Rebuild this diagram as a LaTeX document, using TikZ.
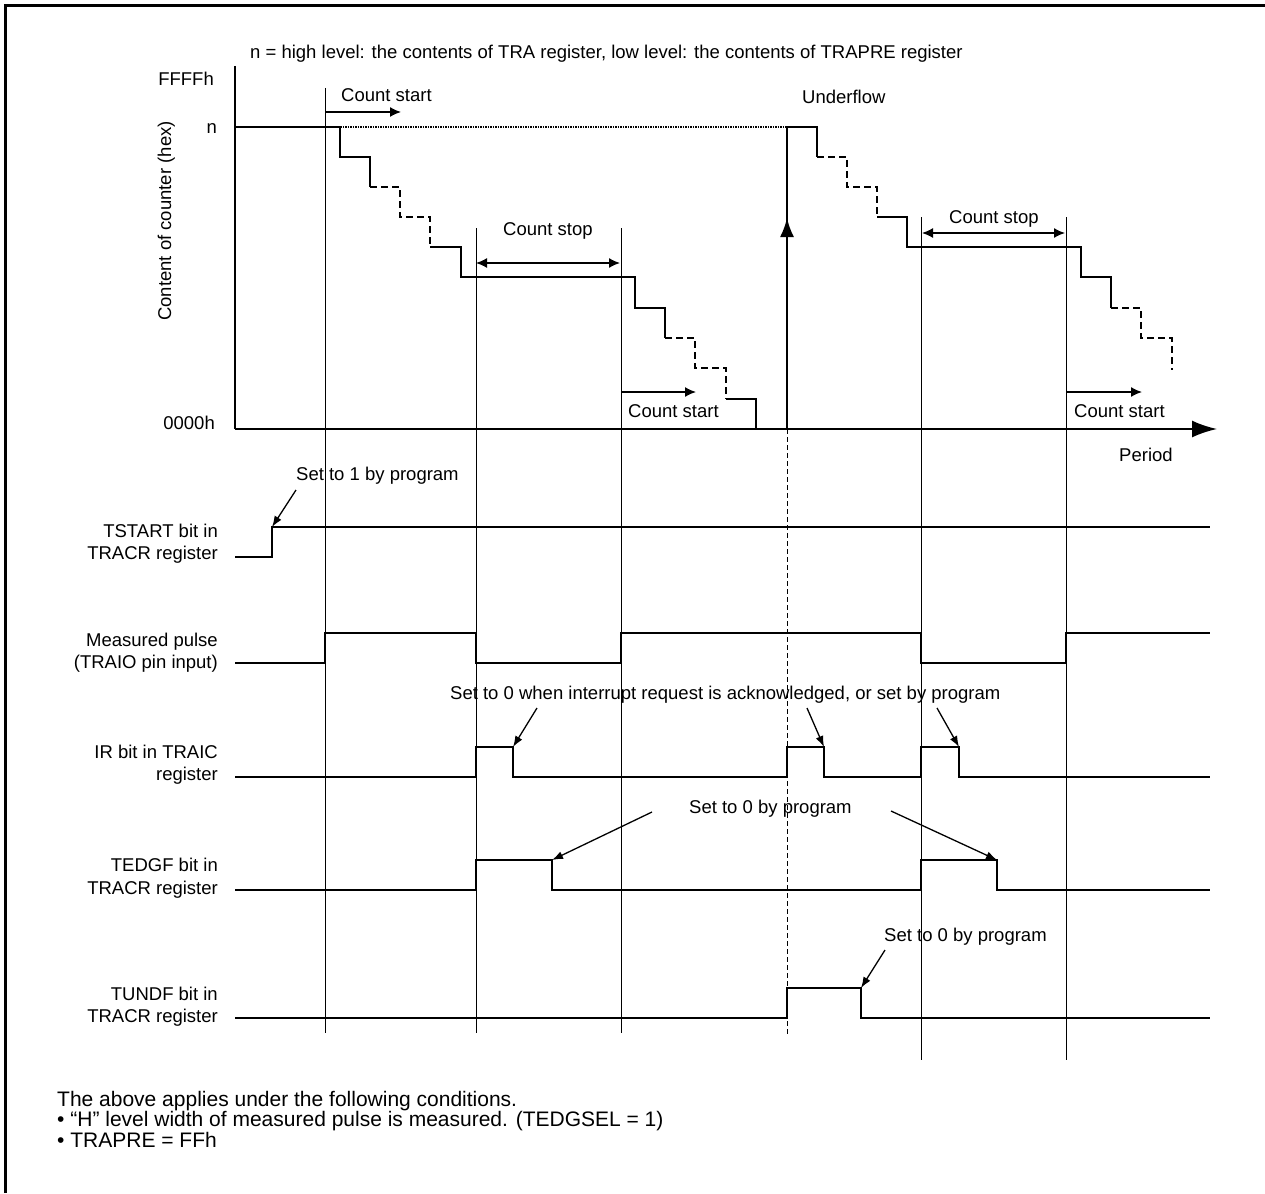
\documentclass[tikz,border=0pt]{standalone}
\usepackage{fontspec}
\setmainfont{Liberation Sans}
\usetikzlibrary{arrows.meta}
\begin{document}
\begin{tikzpicture}[x=1pt,y=-1pt,
  font=\fontsize{18.5}{22.5}\selectfont,
  sig/.style={line width=2pt, line join=miter},
  dstep/.style={line width=2pt, dash pattern=on 7pt off 4pt},
  guide/.style={line width=0.9pt},
  udash/.style={line width=1pt, dash pattern=on 5pt off 3pt},
  txt/.style={inner sep=0pt, anchor=base west},
  lbl/.style={inner sep=0pt, anchor=base east},
  span/.style={line width=1.4pt, -{Latex[length=11pt,width=10pt]}},
  bispan/.style={line width=1.4pt, {Latex[length=11pt,width=10pt]}-{Latex[length=11pt,width=10pt]}},
  note/.style={line width=1.3pt, -{Latex[length=11pt,width=8pt]}},
]
\useasboundingbox (0,0) rectangle (1265,1193);
% frame (top and left)
\draw[line width=3pt] (5.5,1193) -- (5.5,5.5) -- (1265,5.5);

% header text
\node[txt] (hdr) at (250,58.6) {n = high level: the contents of TRA register, low level: the contents of TRAPRE register};

% axes
\coordinate (ytop) at (235,66);
\coordinate (orig) at (235,429);
\coordinate (xend) at (1217,429);
\draw[line width=2pt] (ytop) -- (orig);
\draw[line width=2pt, -{Latex[length=25pt,width=17pt]}] (orig) -- (xend);
\node[lbl] (lffff) at (214,86) {FFFFh};
\node[lbl] (ln) at (217,134) {n};
\node[lbl] (l0000) at (215,429) {0000h};
\node[inner sep=0pt, anchor=base, rotate=90] (ylab) at (171,221) {Content of counter (hex)};
\node[txt] (period) at (1119,461.7) {Period};

% guide lines
\draw[guide] (325,88) -- (325,1033);
\draw[guide] (476,228) -- (476,1033);
\draw[guide] (621,228) -- (621,1033);
\draw[guide] (921,217) -- (921,1060);
\draw[guide] (1066,217) -- (1066,1060);
\draw[udash] (787,429) -- (787,1035);

% counter staircase 1
\draw[line width=1.2pt, dash pattern=on 1.5pt off 1pt] (340,127) -- (787,127);
\draw[sig] (235,127) -- (340,127) -- (340,157) -- (370,157) -- (370,187);
\draw[dstep] (370,187) -- (400,187) -- (400,217) -- (430,217) -- (430,247);
\draw[sig] (430,247) -- (461,247) -- (461,277) -- (635,277) -- (635,308) -- (665,308) -- (665,338);
\draw[dstep] (665,338) -- (695,338) -- (695,368) -- (726,368) -- (726,399);
\draw[sig] (726,399) -- (756,399) -- (756,429);
% underflow and staircase 2
\draw[sig] (787,429) -- (787,127) -- (817,127) -- (817,157);
\draw[line width=2pt, -{Latex[length=19pt,width=14pt]}] (787,245) -- (787,218);
\draw[dstep] (817,157) -- (847,157) -- (847,187) -- (877,187) -- (877,217);
\draw[sig] (877,217) -- (907,217) -- (907,247) -- (1081,247) -- (1081,277) -- (1111,277) -- (1111,308);
\draw[dstep] (1111,308) -- (1141,308) -- (1141,338) -- (1172,338) -- (1172,370);
\node[txt] (uflow) at (802,103.3) {Underflow};

% count start / stop
\node[txt] (cs1) at (341,101.5) {Count start};
\draw[span] (325,112) -- (401,112);
\node[txt] (cp1) at (503,235.7) {Count stop};
\draw[bispan] (476,263) -- (620,263);
\node[txt] (cs2) at (628,417) {Count start};
\draw[span] (621,392) -- (696,392);
\node[txt] (cp2) at (949,223) {Count stop};
\draw[bispan] (922,233) -- (1065,233);
\node[txt] (cs3) at (1074,417) {Count start};
\draw[span] (1066,392) -- (1142,392);

% signal labels
\node[lbl] (tsa) at (218,537.3) {TSTART bit in};
\node[lbl] (tsb) at (218,559.3) {TRACR register};
\node[lbl] (mpa) at (218,646) {Measured pulse};
\node[lbl] (mpb) at (218,668) {(TRAIO pin input)};
\node[lbl] (ira) at (218,758) {IR bit in TRAIC};
\node[lbl] (irb) at (218,780) {register};
\node[lbl] (tea) at (218,871.7) {TEDGF bit in};
\node[lbl] (teb) at (218,894) {TRACR register};
\node[lbl] (tua) at (218,1000.5) {TUNDF bit in};
\node[lbl] (tub) at (218,1022.7) {TRACR register};

% signals
\draw[sig] (235,557) -- (272,557) -- (272,527) -- (1210,527);
\draw[sig] (235,663) -- (325,663) -- (325,633) -- (476,633) -- (476,663) -- (621,663) -- (621,633) -- (921,633) -- (921,663) -- (1066,663) -- (1066,633) -- (1210,633);
\draw[sig] (235,777) -- (476,777) -- (476,747) -- (513,747) -- (513,777) -- (787,777) -- (787,747) -- (824,747) -- (824,777) -- (921,777) -- (921,747) -- (959,747) -- (959,777) -- (1210,777);
\draw[sig] (235,890) -- (476,890) -- (476,860) -- (552,860) -- (552,890) -- (921,890) -- (921,860) -- (997,860) -- (997,890) -- (1210,890);
\draw[sig] (235,1018) -- (787,1018) -- (787,988) -- (861,988) -- (861,1018) -- (1210,1018);

% annotations
\node[txt] (set1) at (296,480.7) {Set to 1 by program};
\coordinate (set1s) at (296,490);
\coordinate (set1e) at (272,527);
\draw[note] (set1s) -- (set1e);

\node[txt] (irnote) at (450,699.5) {Set to 0 when interrupt request is acknowledged, or set by program};
\coordinate (ir1s) at (537,708); \coordinate (ir1e) at (513,747);
\coordinate (ir2s) at (807,708); \coordinate (ir2e) at (824,747);
\coordinate (ir3s) at (937,708); \coordinate (ir3e) at (959,747);
\draw[note] (ir1s) -- (ir1e);
\draw[note] (ir2s) -- (ir2e);
\draw[note] (ir3s) -- (ir3e);

\node[txt] (tenote) at (689,813) {Set to 0 by program};
\coordinate (te1s) at (652,812); \coordinate (te1e) at (552,860);
\coordinate (te2s) at (891,811); \coordinate (te2e) at (997,860);
\draw[note] (te1s) -- (te1e);
\draw[note] (te2s) -- (te2e);

\node[txt] (tunote) at (884,941.7) {Set to 0 by program};
\coordinate (tus) at (885,950); \coordinate (tue) at (861,988);
\draw[note] (tus) -- (tue);

% footnote
\begin{scope}[font=\fontsize{21}{21}\selectfont]
\node[txt] (fn1) at (57,1106) {The above applies under the following conditions.};
\node[txt] (fn2) at (57,1126.5) {• “H” level width of measured pulse is measured. (TEDGSEL = 1)};
\node[txt] (fn3) at (57,1147) {• TRAPRE = FFh};
\end{scope}
\end{tikzpicture}
\end{document}
